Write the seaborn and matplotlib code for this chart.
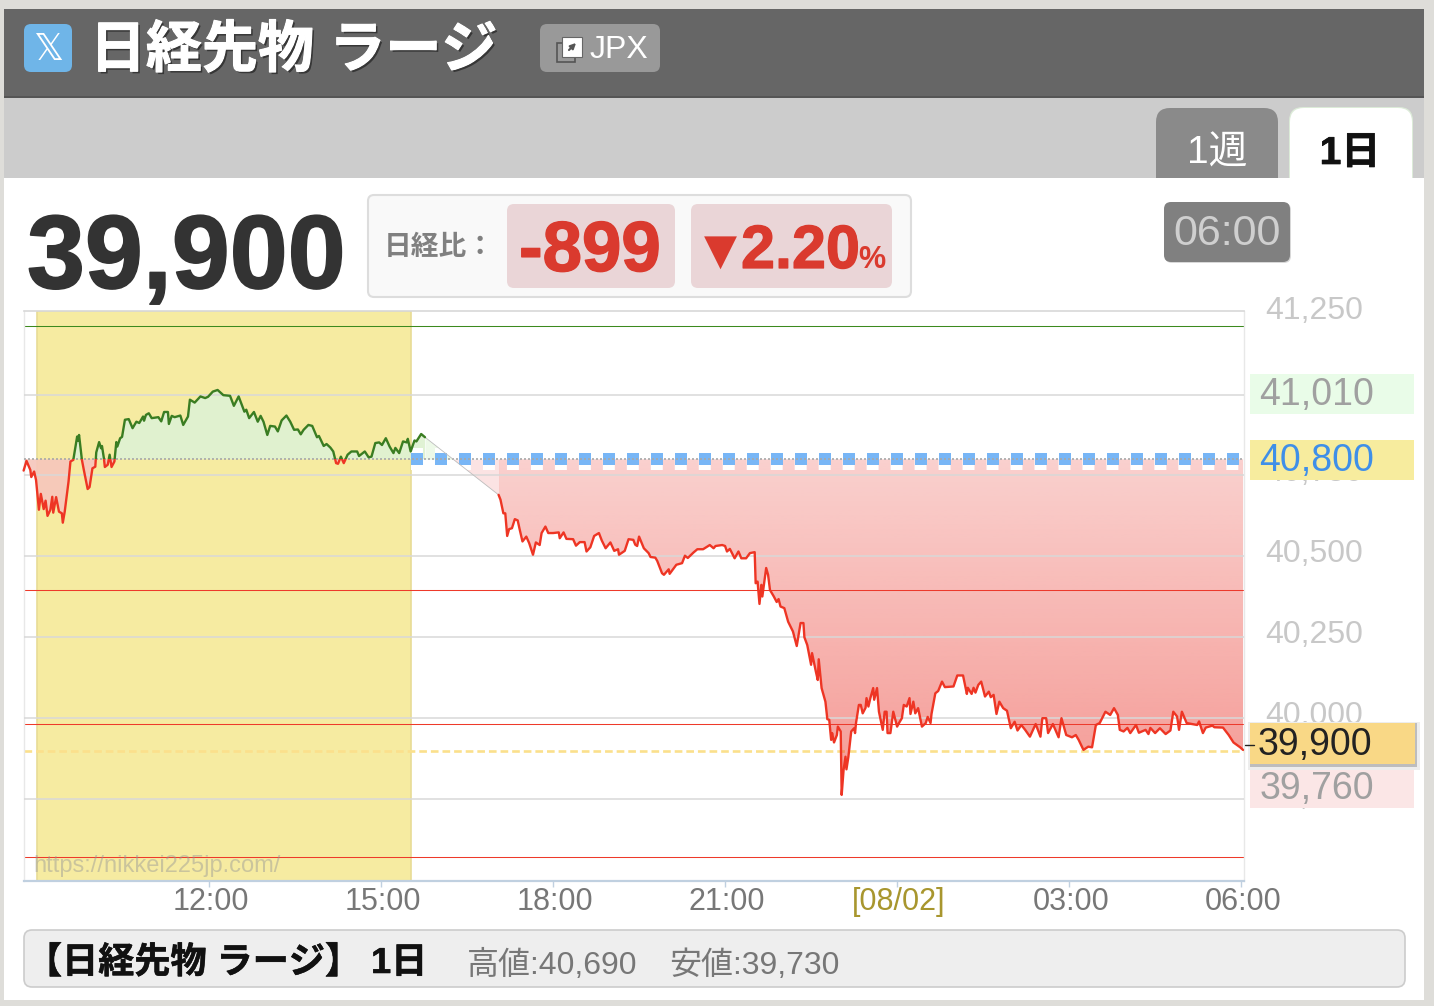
import numpy as np
import pandas as pd
import matplotlib
matplotlib.use("Agg")
import matplotlib.pyplot as plt
import matplotlib.patheffects as pe
from matplotlib.patches import FancyBboxPatch, Rectangle, PathPatch
from matplotlib.path import Path
from matplotlib.transforms import ScaledTranslation
import seaborn as sns

# minutes after 08:45 / price
day_minutes = [1,4,8,9,12,14,17,19,22,24,26,29,31,32,35,38,41,42,44,48,50,53,57,58,59,62,64,68,70,73,76,77,80,82,83,85,86,89,91,93,96,98,99,102,104,107,111,115,119,122,126,127,129,132,135,142,145,148,152,153,156,159,165,168,173,175,180,186,191,194,199,204,210,217,221,226,232,234,237,242,246,249,252,256,259,264,267,271,276,280,284,288,291,294,299,303,308,310,315,318,322,325,328,330,333,336,340,344,350,352,358,362,365,369,373,376,380,384,388,390,394,398,402,403,406,410,412,417,421]
day_prices = [40765,40795,40767,40745,40762,40736,40644,40693,40646,40672,40625,40644,40684,40635,40683,40638,40633,40604,40638,40731,40793,40798,40870,40857,40875,40798,40767,40708,40714,40772,40777,40821,40853,40834,40841,40803,40776,40783,40814,40776,40793,40853,40839,40865,40869,40922,40924,40896,40916,40912,40932,40919,40937,40942,40927,40930,40917,40946,40946,40909,40934,40930,40935,40906,40932,40984,40975,40994,40989,40993,41009,41014,40998,40996,40965,40994,40947,40953,40927,40946,40916,40934,40916,40875,40903,40901,40886,40920,40935,40916,40891,40892,40877,40891,40906,40903,40868,40872,40841,40847,40836,40824,40788,40786,40808,40788,40814,40824,40824,40810,40824,40806,40808,40850,40852,40844,40865,40839,40819,40835,40819,40855,40852,40863,40824,40858,40855,40878,40868]
night_minutes = [498,500,503,505,507,509,512,515,518,520,523,527,530,534,537,541,543,547,550,555,561,562,566,569,576,579,583,588,590,594,598,603,606,610,615,619,623,624,630,634,639,641,643,645,650,655,657,662,664,669,671,676,677,684,690,693,696,702,706,712,719,723,725,732,735,737,740,745,749,752,757,761,766,767,769,771,773,774,778,780,782,786,789,791,793,797,801,806,810,814,817,818,821,825,826,830,832,833,836,840,842,844,846,847,849,852,853,856,857,859,861,862,864,867,870,871,872,875,877,879,882,883,885,887,890,891,894,896,900,902,904,905,908,911,915,917,920,922,925,928,929,932,934,937,941,945,947,950,951,955,958,962,965,974,978,984,988,989,993,995,997,1000,1003,1007,1011,1013,1016,1019,1022,1026,1030,1034,1038,1041,1045,1049,1054,1060,1065,1067,1071,1073,1078,1084,1087,1092,1098,1102,1105,1110,1115,1119,1123,1127,1133,1138,1142,1146,1148,1152,1156,1159,1165,1168,1175,1178,1180,1185,1190,1196,1201,1204,1208,1210,1213,1218,1229,1231,1235,1238,1245,1247,1256,1262,1267,1274,1277]
night_prices = [40690,40675,40633,40633,40563,40584,40587,40615,40611,40584,40546,40561,40541,40505,40543,40535,40572,40592,40572,40572,40574,40556,40574,40554,40553,40533,40544,40544,40515,40528,40563,40572,40549,40525,40543,40517,40522,40505,40517,40553,40551,40536,40532,40561,40525,40510,40498,40496,40486,40448,40443,40460,40446,40474,40479,40502,40495,40512,40522,40522,40535,40525,40532,40535,40532,40515,40523,40494,40515,40494,40494,40510,40513,40417,40422,40353,40412,40376,40464,40443,40396,40376,40359,40368,40345,40340,40298,40268,40223,40294,40294,40250,40226,40165,40201,40144,40118,40182,40093,40051,39997,39995,39933,39954,39925,39948,39974,39959,39763,39840,39881,39842,39880,39959,39969,39954,39985,40041,40041,40015,40032,40062,40036,40062,40093,40057,40093,40020,39964,40020,40020,39954,39954,40020,39974,39985,40000,40041,40036,40062,40013,40051,40015,40031,39974,39985,40004,39985,40013,40077,40084,40113,40096,40098,40132,40132,40075,40094,40075,40094,40079,40103,40113,40067,40082,40065,40072,40013,40051,40031,40023,39969,39989,39962,39979,39964,39943,39982,39943,40000,40000,39954,39982,39941,40000,39948,39941,39948,39933,39902,39912,39910,39979,39985,40020,40010,40031,40010,39964,39959,39970,39954,39979,39955,39964,39951,39970,39954,39969,39951,39962,40020,40005,39964,40020,39985,39979,39990,39954,39971,39977,39972,39971,39948,39925,39910,39902]
gap_minutes = [421, 498]
gap_prices = [40868, 40690]

x_ticks = [195, 375, 555, 735, 915, 1095, 1275]
x_labels = ["12:00", "15:00", "18:00", "21:00", "[08/02]", "03:00", "06:00"]
y_ticks = [39750, 40000, 40250, 40500, 40750, 41000, 41250]
y_labels = ["39,750", "40,000", "40,250", "40,500", "40,750", "41,000", "41,250"]
red_levels = [40395, 39981, 39571]
green_level = 41211
base_price = 40800
last_price = 39900
session_band = (15, 406)

sns.set_theme(style="white")
FONT = ["Liberation Sans", "Noto Sans CJK JP", "DejaVu Sans"]
plt.rcParams["font.family"] = FONT

W, H = 1434, 1006
fig = plt.figure(figsize=(W / 100, H / 100), dpi=100, facecolor="#DEDDD9")


def pixel_axes(z):
    a = fig.add_axes([0, 0, 1, 1], zorder=z)
    a.set_xlim(0, W)
    a.set_ylim(H, 0)
    a.axis("off")
    a.patch.set_alpha(0)
    return a


bg = pixel_axes(0)
fg = pixel_axes(2)


def rect(a, x0, y0, x1, y1, fc, ec="none", lw=0, r=0, z=1):
    if r:
        p = FancyBboxPatch((x0, y0), x1 - x0, y1 - y0, boxstyle=f"round,pad=0,rounding_size={r}",
                           fc=fc, ec=ec, lw=lw, zorder=z)
    else:
        p = Rectangle((x0, y0), x1 - x0, y1 - y0, fc=fc, ec=ec, lw=lw, zorder=z)
    a.add_patch(p)
    return p


def label(a, x, y, s, size, color, weight="normal", ha="left", z=5, heavy=0, **kw):
    t = a.text(x, y, s, fontsize=size, color=color, fontweight=weight, ha=ha, va="baseline", zorder=z, **kw)
    if heavy:
        t.set_path_effects([pe.withStroke(linewidth=heavy, foreground=color)])
    return t


# page frame
rect(bg, 4, 9, 1424, 97, "#666666", z=1)
rect(bg, 4, 96, 1424, 98, "#555555", z=1.1)
rect(bg, 4, 98, 1424, 178, "#CCCCCC", z=1)
rect(bg, 1156, 108, 1278, 200, "#8A8A8A", r=14, z=2)
rect(bg, 1289, 107, 1413, 200, "#DCEBD8", r=14, z=2)
rect(bg, 1290, 108, 1412, 200, "#FFFFFF", r=14, z=2.1)
rect(bg, 4, 178, 1424, 1000, "#FFFFFF", z=3)

# header
rect(bg, 24, 24, 72, 72, "#6FB5E8", r=7, z=4)
bg.text(48, 60, "\U0001D54F", fontsize=27, color="white", ha="center", va="baseline", family="DejaVu Sans", zorder=5)
title = label(bg, 90, 67, "日経先物 ラージ", 40.3, "white", "bold")
title.set_path_effects([pe.withSimplePatchShadow(offset=(1.5, -1.5), shadow_rgbFace="#222222", alpha=0.7), pe.withStroke(linewidth=0.8, foreground="white")])
rect(bg, 540, 24, 660, 72, "#999999", r=7, z=4)
rect(bg, 556.5, 43, 575, 62, "none", ec="#555555", lw=1.2, z=4.5)
rect(bg, 562, 37, 582, 57, "#FFFFFF", ec="#666666", lw=0.8, z=4.6)
bg.annotate("", xy=(578, 41), xytext=(567, 52), zorder=4.7,
            arrowprops=dict(arrowstyle="-|>", color="#555555", lw=1.5, mutation_scale=8))
label(bg, 590, 58, "JPX", 23, "white")
label(bg, 1217, 164, "1週", 28, "white", ha="center")
label(bg, 1350, 164, "1日", 28, "#111111", "bold", ha="center", heavy=0.5)

# price summary
label(bg, 27, 288, "39,900", 75, "#333333", "bold", heavy=1.2)
rect(bg, 368, 195, 911, 297, "#F9F9F9", ec="#DDDDDD", lw=1.5, r=6, z=4)
label(bg, 384, 255, "日経比：", 20, "#808080", "bold")
rect(bg, 507, 204, 675, 288, "#EAD5D7", r=7, z=4.5)
label(bg, 590, 271, "-899", 51, "#DA3A2E", "bold", ha="center", heavy=1.0)
rect(bg, 691, 204, 892, 288, "#EAD5D7", r=7, z=4.5)
label(bg, 704, 264, "▼", 31, "#DA3A2E", family="DejaVu Sans")
label(bg, 741, 268, "2.20", 44, "#DA3A2E", "bold", heavy=0.9)
label(bg, 858, 268, "%", 22, "#DA3A2E", "bold")
rect(bg, 1165, 203, 1291, 263, "#D8D8D8", r=7, z=4)
rect(bg, 1164, 202, 1290, 262, "#808080", r=7, z=4.5)
label(bg, 1227, 245, "06:00", 31, "#CFCFCF", ha="center")

# footer
rect(bg, 24, 930, 1405, 987, "#EEEEEE", ec="#CCCCCC", lw=1.2, r=8, z=4)
label(bg, 26, 973, "【日経先物 ラージ】 1日", 26, "#111111", "bold", heavy=0.4)
label(bg, 467, 974, "高値:40,690", 23, "#777777")
label(bg, 669, 974, "安値:39,730", 23, "#777777")

# chart
ax = fig.add_axes([24 / W, 1 - 881 / H, 1220 / W, 570 / H], zorder=1)
ax.set_facecolor("white")
x_lim = (1.4, 1278)
y_lim = (39497, 41258)

ax.axvspan(*session_band, facecolor="#F6EBA1", edgecolor="#E8DC96", lw=1.2, zorder=0.5)

for lv in red_levels:
    ax.axhline(lv, color="#EE3A2A", lw=0.75, zorder=1.5)
ax.axhline(green_level, color="#3C8A1E", lw=0.75, zorder=1.5)
ax.axhline(last_price, color="#FBE08C", lw=1.9, ls=(0, (2.9, 1.5)), zorder=1.6)

day_t, day_p = np.array(day_minutes), np.array(day_prices)
night_t, night_p = np.array(night_minutes), np.array(night_prices)
gap_t = np.array(gap_minutes)
gap_p = np.array(gap_prices)

ax.fill_between(day_t, day_p, base_price, where=day_p >= base_price, interpolate=True,
                color="#DFF2D2", alpha=0.95, lw=0, zorder=2)
ax.fill_between(day_t, day_p, base_price, where=day_p <= base_price, interpolate=True,
                color="#F6C7BC", alpha=0.92, lw=0, zorder=2)
ax.fill_between(gap_t, gap_p, base_price, where=gap_p >= base_price, interpolate=True,
                color="#EDF9E8", lw=0, zorder=2)
ax.fill_between(gap_t, gap_p, base_price, where=gap_p <= base_price, interpolate=True,
                color="#FBE3E3", lw=0, zorder=2)

night_fill = ax.fill_between(night_t, night_p, base_price, facecolor="none", lw=0, zorder=2)
fill_path = Path.make_compound_path(*night_fill.get_paths())
gradient = np.zeros((256, 1, 4))
gradient[..., :3] = np.array([235, 60, 50]) / 255
gradient[..., 3] = np.linspace(0.24, 0.52, 256)[:, None]
im = ax.imshow(gradient, extent=[night_t[0], night_t[-1], min(night_prices), base_price],
               aspect="auto", origin="upper", interpolation="bilinear", zorder=2.2)
im.set_clip_path(PathPatch(fill_path, transform=ax.transData))

ax.plot(gap_t, gap_p, color="#BDBDBD", lw=0.6, zorder=3)

# previous-close markers
ax.hlines(base_price, 406, x_lim[1] - 4, color="white", lw=15.84, ls=(0, (0.545, 0.545)), zorder=2.6)
ax.hlines(base_price, 406, x_lim[1] - 4, color="#78B6F6", lw=8.64, ls=(0, (1, 1)), zorder=2.7)
ax.axhline(base_price, color="#A8A8A8", lw=1.2, ls=(0, (1.2, 1.2)), zorder=2.8)

for t, p in ((day_t, day_p), (night_t, night_p)):
    frame = pd.DataFrame({"minute": t, "price": p})
    for colour, clip_y, clip_h in (("#3A7D22", base_price, 3000), ("#EE3524", base_price - 3000, 3000)):
        sns.lineplot(data=frame, x="minute", y="price", ax=ax, color=colour, lw=1.7,
                     estimator=None, sort=False, legend=False, zorder=4)
        ax.lines[-1].set_clip_path(Rectangle((-100, clip_y), 2000, clip_h, transform=ax.transData))

ax.set_xlim(*x_lim)
ax.set_ylim(*y_lim)
ax.set_xlabel("")
ax.set_ylabel("")

ax.set_xticks(x_ticks, x_labels)
ax.tick_params(axis="x", length=4, width=1, color="#C0D0E0", labelsize=22, labelcolor="#777777", pad=0, bottom=True)
shift_x = ScaledTranslation(2 / 100, 0, fig.dpi_scale_trans)
for t in ax.get_xticklabels():
    t.set_transform(t.get_transform() + shift_x)
ax.get_xticklabels()[4].set_color("#A8962E")

ax.yaxis.tick_right()
ax.set_yticks(y_ticks, y_labels)
ax.tick_params(axis="y", length=0, labelsize=23, labelcolor="#C8C8C8", pad=15)
shift_y = ScaledTranslation(0, 6 / 100, fig.dpi_scale_trans)
for t in ax.get_yticklabels():
    t.set_transform(t.get_transform() + shift_y)
ax.grid(axis="y", color="#D8D8D8", lw=1.1, zorder=1)
ax.set_axisbelow(False)
for g in ax.get_ygridlines():
    g.set_zorder(1)
ax.get_ygridlines()[-1].set_visible(False)
for name, c, w in (("top", "#D8D8D8", 1.2), ("left", "#E8E8E8", 1.0), ("right", "#E8E8E8", 1.0), ("bottom", "#C0D0E0", 1.6)):
    ax.spines[name].set_visible(True)
    ax.spines[name].set_color(c)
    ax.spines[name].set_linewidth(w)

label(fg, 33, 872, "https://nikkei225jp.com/", 17, "#969696", alpha=0.45)

# price flags on the right
rect(fg, 1250, 374, 1414, 414, "#E9FCE8")
label(fg, 1259, 405, "41,010", 27, "#A0A0A0")
rect(fg, 1250, 440, 1414, 480, "#F7EC9E")
label(fg, 1259, 471, "40,800", 27, "#3F8FE8")
rect(fg, 1250, 770, 1414, 808, "#FBE6E6")
label(fg, 1260, 799, "39,760", 27, "#A0A0A0")
rect(fg, 1248, 722, 1420, 770, "#EDEDED", z=2)
rect(fg, 1250, 723, 1417, 767, "#BDBDBD", z=2.1)
rect(fg, 1250, 723, 1415, 764, "#F9D886", z=2.2)
label(fg, 1258, 755, "39,900", 27, "#222222")
fg.plot([1245, 1254], [745, 745], color="#222222", lw=1.0, zorder=3)
fg.set_xlim(0, W)
fg.set_ylim(H, 0)

fig.savefig("out.png", dpi=100, facecolor=fig.get_facecolor())
